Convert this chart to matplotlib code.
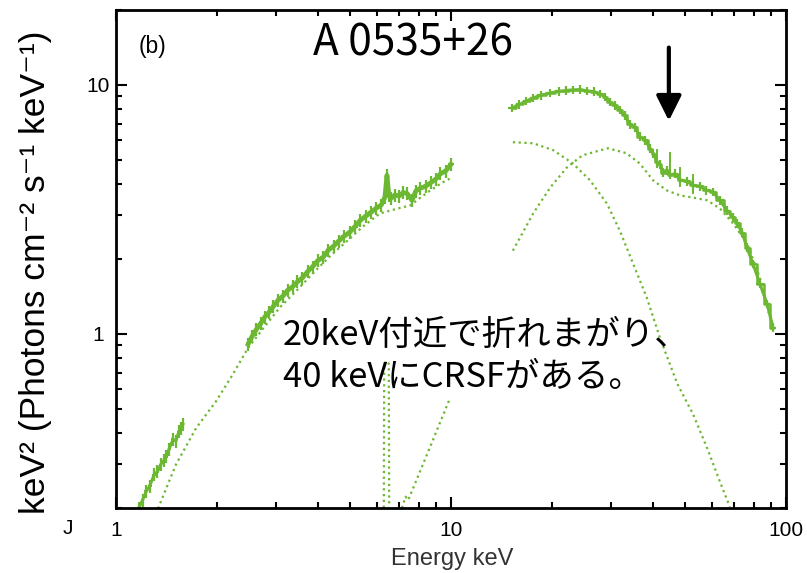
import matplotlib
matplotlib.use("Agg")
import matplotlib.pyplot as plt
from matplotlib.ticker import NullFormatter, LogLocator
import numpy as np

GREEN = "#6cb832"

# data: low energy (1.2-1.6 keV)
seg1_E = [1.17, 1.20, 1.23, 1.26, 1.30, 1.33, 1.36, 1.39, 1.41, 1.44, 1.48, 1.51, 1.54, 1.56, 1.585]
seg1_F = [0.200, 0.215, 0.233, 0.245, 0.272, 0.280, 0.299, 0.310, 0.322, 0.345, 0.377, 0.372, 0.405, 0.418, 0.434]

# data: 2.5-10 keV
seg2_E = [2.48, 2.55, 2.62, 2.70, 2.78, 2.86, 2.95, 3.05, 3.15, 3.26, 3.37, 3.48, 3.60, 3.73,
          3.86, 4.00, 4.15, 4.30, 4.46, 4.62, 4.80, 4.98, 5.17, 5.36, 5.56, 5.77, 5.98, 6.20,
          6.35, 6.44, 6.52, 6.62, 6.80, 7.00, 7.20, 7.40, 7.65, 7.85, 8.10, 8.40, 8.70, 9.00,
          9.30, 9.65, 10.0]
seg2_F = [0.91, 0.98, 1.04, 1.10, 1.17, 1.22, 1.29, 1.37, 1.42, 1.50, 1.55, 1.62, 1.68, 1.78,
          1.86, 1.97, 2.03, 2.17, 2.25, 2.36, 2.47, 2.56, 2.70, 2.86, 2.97, 3.08, 3.20, 3.30,
          3.55, 4.34, 3.60, 3.50, 3.62, 3.58, 3.70, 3.66, 3.44, 3.75, 3.85, 3.92, 4.05, 4.18,
          4.40, 4.52, 4.80]

# data: 15-92 keV
seg3_E = [15.2, 16.0, 16.8, 17.6, 18.6, 19.8, 21.0, 22.0, 23.1, 24.3, 25.5, 26.7, 27.9, 28.8,
          29.8, 30.8, 31.9, 33.0, 34.2, 35.4, 36.6, 38.0, 39.3, 40.2, 41.2, 42.0, 42.9, 44.0,
          45.1, 46.6, 48.3, 50.6, 52.8, 55.3, 57.8, 60.5, 63.5, 66.7, 69.5, 71.4, 74.0, 76.5,
          79.7, 83.6, 87.8, 91.5]
seg3_F = [8.08, 8.35, 8.62, 8.87, 9.10, 9.29, 9.42, 9.50, 9.55, 9.58, 9.46, 9.40, 9.20, 8.95,
          8.54, 8.30, 7.93, 7.55, 6.95, 6.75, 6.20, 6.00, 5.55, 5.30, 4.90, 4.80, 4.45, 4.55,
          4.35, 4.40, 4.15, 4.10, 3.95, 3.92, 3.78, 3.72, 3.44, 3.13, 2.94, 2.78, 2.55, 2.22,
          1.91, 1.59, 1.32, 1.06]
seg3_up = [(41.2, 5.5), (45.1, 5.32), (48.3, 4.63), (52.8, 4.35)]

# model components (dotted)
compA_lo_E = [1.335, 1.51, 1.733, 1.99, 2.235, 2.477, 2.746, 3.088, 3.47, 3.98, 4.35, 4.89,
              5.46, 6.14, 7.0, 7.55, 8.5, 9.4, 10.1]
compA_lo_F = [0.199, 0.299, 0.418, 0.537, 0.690, 0.878, 1.05, 1.28, 1.50, 1.82, 2.05, 2.36,
              2.70, 3.05, 3.20, 3.28, 3.70, 4.05, 4.26]
compA_hi_E = [15.3, 17.6, 20.2, 23.1, 26.0, 29.2, 31.9, 35.0, 38.4, 42.1, 47.4, 52.8, 58.2, 63.5, 68.0]
compA_hi_F = [5.89, 5.83, 5.47, 4.84, 4.14, 3.34, 2.60, 1.91, 1.40, 0.96, 0.63, 0.476, 0.347, 0.255, 0.202]
compB_lo_E = [7.14, 7.32, 7.45, 8.48, 9.93]
compB_lo_F = [0.200, 0.222, 0.215, 0.328, 0.552]
compB_hi_E = [15.3, 17.6, 19.8, 22.2, 24.7, 29.4, 33.4, 36.6, 40.1, 44.1, 48.3, 52.8, 58.2,
              63.5, 69.5, 76.5, 83.6, 89.6, 91.5]
compB_hi_F = [2.16, 3.05, 3.88, 4.67, 5.22, 5.57, 5.32, 4.84, 4.14, 3.77, 3.60, 3.53, 3.44,
              3.19, 2.78, 2.31, 1.68, 1.16, 1.03]
fe_E = [6.30, 6.32, 6.42, 6.52, 6.54]
fe_F = [0.19, 0.76, 0.78, 0.76, 0.19]


def half_bins(E):
    E = np.asarray(E)
    edges = np.sqrt(E[1:] * E[:-1])
    lo = np.concatenate([[E[0] ** 2 / edges[0]], edges])
    hi = np.concatenate([edges, [E[-1] ** 2 / edges[-1]]])
    return [E - lo, hi - E]


fig = plt.figure(figsize=(8.07, 5.73), dpi=100)
ax = fig.add_axes([116 / 807, 1 - 508 / 573, 670 / 807, 498 / 573])
ax.set_xscale("log")
ax.set_yscale("log")
ax.set_xlim(1, 100)
ax.set_ylim(0.2, 20)

dot = (0, (1, 1.6))
for E, F in [(compA_lo_E, compA_lo_F), (compA_hi_E, compA_hi_F),
             (compB_lo_E, compB_lo_F), (compB_hi_E, compB_hi_F), (fe_E, fe_F)]:
    ax.plot(E, F, color=GREEN, ls=dot, lw=1.6)

for E, F, lw, err in [(seg1_E, seg1_F, 2.2, 0.06), (seg2_E, seg2_F, 3.4, 0.06),
                      (seg3_E, seg3_F, 2.2, 0.04)]:
    F = np.asarray(F)
    ax.errorbar(E, F, xerr=half_bins(E), yerr=err * F, fmt="none",
                ecolor=GREEN, elinewidth=1.6)
    ax.plot(E, F, color=GREEN, lw=lw)
ax.step(seg3_E, seg3_F, where="mid", color=GREEN, lw=1.8)
for e, f in seg3_up:
    ax.plot([e, e], [f * 0.85, f], color=GREEN, lw=1.4)

ax.annotate("", xy=(44.7, 7.0), xytext=(44.7, 14.5),
            arrowprops=dict(arrowstyle="-|>", lw=3, mutation_scale=38, color="black"))

for s in ax.spines.values():
    s.set_linewidth(2)
ax.tick_params(which="both", direction="in", top=True, right=True, width=1.5,
               labelsize=15, colors="black")
ax.tick_params(which="major", length=8)
ax.tick_params(which="minor", length=4)
ax.tick_params(axis="x", pad=9)
ax.tick_params(axis="y", pad=13)
ax.xaxis.set_minor_locator(LogLocator(subs=np.arange(2, 10)))
ax.yaxis.set_minor_locator(LogLocator(subs=np.arange(2, 10)))
ax.xaxis.set_minor_formatter(NullFormatter())
ax.yaxis.set_minor_formatter(NullFormatter())
ax.set_xticks([1, 10, 100])
ax.set_xticklabels(["1", "10", "100"], family="Liberation Sans")
ax.set_yticks([1, 10])
ax.set_yticklabels(["1", "10"], family="Liberation Sans")
plt.setp(ax.get_yticklabels(), ha="center")

fig.text(452 / 807, 1 - 559 / 573, "Energy keV", ha="center", va="center",
         fontsize=17, color="#333333", family="Liberation Sans")
fig.text(36 / 807, 1 - 272 / 573, "keV² (Photons cm⁻² s⁻¹ keV⁻¹)", rotation=90,
         ha="center", va="center", fontsize=25.5, family=["Liberation Sans", "DejaVu Sans"])
fig.text(68 / 807, 1 - 529 / 573, "J", ha="center", va="center", fontsize=15,
         family="Liberation Sans")
fig.text(153 / 807, 1 - 46 / 573, "(b)", ha="center", va="center", fontsize=16.5,
         family="Liberation Sans")
fig.text(313 / 807, 1 - 55 / 573, "A 0535+26", ha="left", va="baseline", fontsize=30.5,
         family="Noto Sans CJK JP")
fig.text(283 / 807, 1 - 345 / 573, "20keV付近で折れまがり、", ha="left", va="baseline",
         fontsize=24.8, family="Noto Sans CJK JP")
fig.text(283 / 807, 1 - 387 / 573, "40 keVにCRSFがある。", ha="left", va="baseline",
         fontsize=24.8, family="Noto Sans CJK JP")

fig.savefig("out.png", dpi=100)
